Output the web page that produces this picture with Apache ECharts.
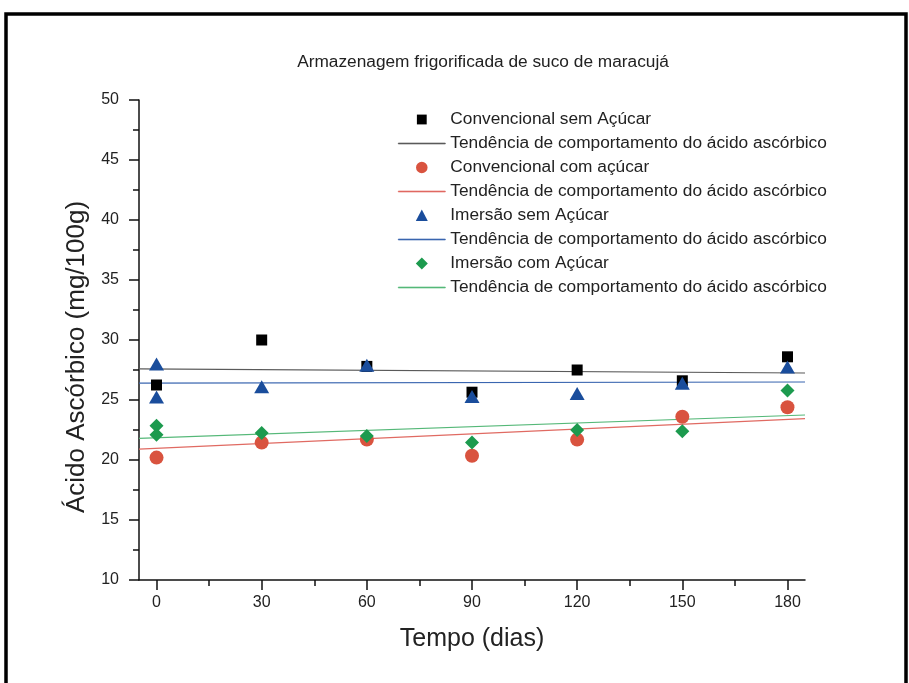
<!DOCTYPE html>
<html>
<head>
<meta charset="utf-8">
<title>Armazenagem frigorificada de suco de maracujá</title>
<script src="https://cdn.jsdelivr.net/npm/echarts@6/dist/echarts.min.js"></script>
<style>
  html, body { margin: 0; padding: 0; background: #fff; }
  #chart { width: 909px; height: 683px; }
</style>
</head>
<body>
<div id="chart"></div>
<script>
// dias de armazenamento
const days = [0, 30, 60, 90, 120, 150, 180]
const xLabelTicks = [0, 30, 60, 90, 120, 150, 180]
const xMinorTicks = [15, 45, 75, 105, 135, 165]

// ácido ascórbico (mg/100g)
const convSem = [26.25, 30.0, 27.8, 25.65, 27.5, 26.6, 28.6]
const convCom = [20.2, 21.45, 21.7, 20.35, 21.7, 23.6, 24.4]
const imerSem = [[0, 28.0], [0, 25.25], [30, 26.1], [60, 27.9], [90, 25.3], [120, 25.55], [150, 26.4], [180, 27.75]]
const imerCom = [[0, 22.85], [0, 22.1], [30, 22.25], [60, 22.0], [90, 21.45], [120, 22.5], [150, 22.4], [180, 25.8]]

// linhas de tendência (extremos, x = -5 e 185)
const trendX = [-5, 185]
const trendConvSem = [27.6, 27.25]
const trendConvCom = [20.9, 23.45]
const trendImerSem = [26.4, 26.5]
const trendImerCom = [21.8, 23.75]

const colors = {
  s1: '#000000', t1: '#5a5a5a',
  s2: '#d9533f', t2: '#e06a62',
  s3: '#1a4d9c', t3: '#3a66b0',
  s4: '#1c9a4e', t4: '#55b878'
}

const trendLabel = 'Tendência de comportamento do ácido ascórbico'
const legendText = {
  s1: 'Convencional sem Açúcar', t1: trendLabel,
  s2: 'Convencional com açúcar', t2: trendLabel,
  s3: 'Imersão sem Açúcar', t3: trendLabel,
  s4: 'Imersão com Açúcar', t4: trendLabel
}

// ícones da legenda (caixa 11x11, com pontos M para fixar o tamanho)
const box = 'path://M0,0M11,11'
const icons = {
  s1: box + 'M1,1L10,1L10,10L1,10Z',
  s2: box + 'M5.5,0.2A5.3,5.3,0,1,1,5.5,10.8A5.3,5.3,0,1,1,5.5,0.2Z',
  s3: box + 'M5.5,0L11,10.5L0,10.5Z',
  s4: box + 'M5.5,0L11,5.5L5.5,11L0,5.5Z',
  line: 'path://M0,0L47,0L47,1L0,1Z'
}

const font = 'Liberation Sans, Arial, sans-serif'
const zip = (xs, ys) => xs.map((x, i) => [x, ys[i]])

function scatter(name, data, symbol, size) {
  return {
    name, type: 'scatter', data, symbol, symbolSize: size,
    itemStyle: { color: colors[name], opacity: 1 }, z: 5
  }
}
function trend(name, ys) {
  const color = colors[name]
  return {
    name, type: 'line', data: zip(trendX, ys), showSymbol: false, symbol: 'none',
    lineStyle: { color, width: 1.2 }, itemStyle: { color }, z: 3
  }
}

const chart = echarts.init(document.getElementById('chart'))
chart.setOption({
  backgroundColor: '#ffffff',
  animation: false,
  title: {
    text: 'Armazenagem frigorificada de suco de maracujá',
    left: 478, top: 49, textAlign: 'center',
    textStyle: { fontFamily: font, fontSize: 17.3, fontWeight: 'normal', color: '#222' }
  },
  legend: {
    orient: 'vertical', left: 398, top: 111, padding: 0,
    itemWidth: 47, itemHeight: 12, itemGap: 7,
    data: Object.keys(legendText).map((n) => ({
      name: n,
      icon: icons[n] || icons.line,
      itemStyle: icons[n]
        ? { color: colors[n], borderWidth: 0, opacity: 1 }
        : { color: colors[n], borderColor: colors[n], borderWidth: 0.6, opacity: 1 }
    })),
    formatter: (n) => legendText[n],
    textStyle: { fontFamily: font, fontSize: 17.3, color: '#222' },
    selectedMode: false
  },
  graphic: [{
    type: 'rect', shape: { x: 6, y: 14, width: 900, height: 700 },
    style: { fill: 'none', stroke: '#000', lineWidth: 3.5 }, silent: true
  }],
  grid: { left: 139, right: 104, top: 100, bottom: 103 },
  xAxis: [{
    type: 'value', min: -5, max: 185,
    name: 'Tempo (dias)', nameLocation: 'middle', nameGap: 47,
    nameTextStyle: { fontFamily: font, fontSize: 25, color: '#222' },
    axisLine: { onZero: false, lineStyle: { color: '#111', width: 1.5 } },
    axisTick: { customValues: xLabelTicks, length: 10, lineStyle: { color: '#111', width: 1.5 } },
    axisLabel: { customValues: xLabelTicks, fontFamily: font, fontSize: 16, color: '#222', margin: 15 },
    splitLine: { show: false }
  }, {
    type: 'value', min: -5, max: 185, position: 'bottom',
    axisLine: { show: false, onZero: false },
    axisTick: { customValues: xMinorTicks, length: 6, lineStyle: { color: '#111', width: 1.5 } },
    axisLabel: { show: false },
    splitLine: { show: false }
  }],
  yAxis: {
    type: 'value', min: 10, max: 50, interval: 5,
    name: 'Ácido Ascórbico (mg/100g)', nameLocation: 'middle', nameGap: 44,
    nameTextStyle: { fontFamily: font, fontSize: 26, color: '#222', padding: [0, 34, 0, 0] },
    axisLine: { show: true, onZero: false, lineStyle: { color: '#111', width: 1.5 } },
    axisTick: { show: true, length: 10, lineStyle: { color: '#111', width: 1.5 } },
    minorTick: { show: true, splitNumber: 2, length: 6, lineStyle: { color: '#111', width: 1.5 } },
    axisLabel: { fontFamily: font, fontSize: 16, color: '#222', margin: 20 },
    splitLine: { show: false }
  },
  series: [
    scatter('s1', zip(days, convSem), 'rect', 11),
    trend('t1', trendConvSem),
    scatter('s2', zip(days, convCom), 'circle', 14),
    trend('t2', trendConvCom),
    scatter('s3', imerSem, 'triangle', [15, 13]),
    trend('t3', trendImerSem),
    scatter('s4', imerCom, 'diamond', 14),
    trend('t4', trendImerCom)
  ]
})
</script>
</body>
</html>
